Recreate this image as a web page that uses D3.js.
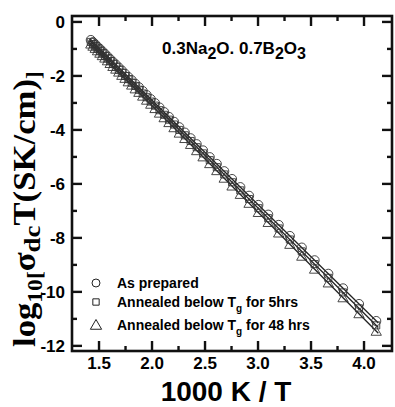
<!DOCTYPE html>
<html><head><meta charset="utf-8">
<script src="https://cdn.jsdelivr.net/npm/d3@7"></script>
<style>body{margin:0;background:#fff}svg{display:block}</style>
</head><body><svg id="c" width="395" height="407"></svg>
<script>
// 1000/T values (T = 703 K down to 243 K)
const invT = [1.4225,1.4430,1.4641,1.4859,1.5083,1.5314,1.5552,1.5798,1.6051,1.6313,1.6584,1.6863,1.7153,1.7452,1.7762,1.8083,1.8416,1.8762,1.9120,1.9493,1.9881,2.0284,2.0704,2.1142,2.1598,2.2075,2.2573,2.3095,2.3641,2.4213,2.4814,2.5445,2.6110,2.6810,2.7548,2.8329,2.9155,3.0030,3.0960,3.1949,3.3003,3.4130,3.5336,3.6630,3.8023,3.9526,4.1152];
const asPrepared = [-0.67,-0.75,-0.83,-0.92,-1.00,-1.09,-1.18,-1.28,-1.38,-1.48,-1.58,-1.69,-1.80,-1.92,-2.04,-2.16,-2.29,-2.42,-2.56,-2.71,-2.86,-3.01,-3.17,-3.34,-3.52,-3.70,-3.90,-4.10,-4.31,-4.53,-4.76,-5.01,-5.26,-5.53,-5.82,-6.12,-6.44,-6.78,-7.14,-7.52,-7.93,-8.36,-8.83,-9.33,-9.87,-10.45,-11.08];
const annealed5h = [-0.74,-0.82,-0.90,-0.99,-1.07,-1.16,-1.26,-1.35,-1.45,-1.55,-1.66,-1.77,-1.88,-2.00,-2.12,-2.25,-2.37,-2.51,-2.65,-2.79,-2.95,-3.10,-3.27,-3.44,-3.62,-3.80,-4.00,-4.20,-4.41,-4.64,-4.87,-5.12,-5.38,-5.65,-5.94,-6.24,-6.56,-6.90,-7.27,-7.65,-8.06,-8.50,-8.97,-9.48,-10.02,-10.61,-11.24];
const annealed48h = [-0.82,-0.90,-0.98,-1.07,-1.16,-1.25,-1.34,-1.44,-1.54,-1.65,-1.75,-1.86,-1.98,-2.09,-2.22,-2.34,-2.48,-2.61,-2.75,-2.90,-3.05,-3.21,-3.38,-3.55,-3.73,-3.92,-4.12,-4.32,-4.54,-4.77,-5.00,-5.25,-5.51,-5.79,-6.08,-6.39,-6.72,-7.06,-7.43,-7.82,-8.24,-8.68,-9.16,-9.67,-10.22,-10.81,-11.46];
const xTicks = [1.5,2.0,2.5,3.0,3.5,4.0];
const xMinor = [1.25,1.75,2.25,2.75,3.25,3.75,4.25];
const yTicks = [0,-2,-4,-6,-8,-10,-12];
const yMinor = [-1,-3,-5,-7,-9,-11];
const seriesNames = ["As prepared","Annealed below T|g| for 5hrs","Annealed below T|g| for 48 hrs"];
const seriesSymbols = ["circle","square","triangle"];

const svg = d3.select("#c");
const L=72,R=392,T=16,B=351;
const x = d3.scaleLinear().domain([1.245,4.264]).range([L,R]);
const y = d3.scaleLinear().domain([0.22,-12.19]).range([T,B]);

const sym = {circle:d3.symbolCircle, square:d3.symbolSquare, triangle:d3.symbolTriangle};
const sizes = {circle:66, square:50, triangle:46};
const series = [asPrepared, annealed5h, annealed48h];

// fit lines
const g = svg.append("g");
series.forEach((ys)=>{
  const n=ys.length, mx=d3.mean(invT), my=d3.mean(ys);
  let sxy=0,sxx=0; for(let i=0;i<n;i++){sxy+=(invT[i]-mx)*(ys[i]-my);sxx+=(invT[i]-mx)**2;}
  const b=sxy/sxx, a=my-b*mx;
  const x0=invT[0]-0.01, x1=invT[n-1]+0.02;
  g.append("path").attr("d",d3.line()([[x(x0),y(a+b*x0)],[x(x1),y(a+b*x1)]]))
   .attr("stroke","#222").attr("stroke-width",1.3).attr("fill","none");
});
// markers
series.forEach((ys,si)=>{
  const s=seriesSymbols[si];
  g.selectAll(null).data(ys).enter().append("path")
   .attr("d",d3.symbol(sym[s],sizes[s]))
   .attr("transform",(d,i)=>`translate(${x(invT[i])},${y(d)+(s==="triangle"?1:0)})`)
   .attr("fill","none").attr("stroke","#333").attr("stroke-width",0.9);
});

// axes
const font="Arial, 'Liberation Sans', sans-serif";
const ax = svg.append("g");
ax.append("rect").attr("x",L).attr("y",T).attr("width",R-L).attr("height",B-T)
  .attr("fill","none").attr("stroke","#111").attr("stroke-width",2.6);
const tk = (x1,y1,x2,y2)=>ax.append("line").attr("x1",x1).attr("y1",y1).attr("x2",x2).attr("y2",y2).attr("stroke","#111").attr("stroke-width",2.4);
xTicks.forEach(v=>{tk(x(v),B,x(v),B-10);tk(x(v),T,x(v),T+10);});
xMinor.forEach(v=>{ if(x(v)>L+2&&x(v)<R-2){tk(x(v),B,x(v),B-5);tk(x(v),T,x(v),T+5);} });
yTicks.forEach(v=>{tk(L,y(v),L+10,y(v));tk(R,y(v),R-10,y(v));});
yMinor.forEach(v=>{tk(L,y(v),L+5,y(v));tk(R,y(v),R-5,y(v));});
ax.selectAll(null).data(xTicks).enter().append("text")
  .attr("x",d=>x(d)).attr("y",369).attr("text-anchor","middle")
  .attr("font-family",font).attr("font-weight","bold").attr("font-size",17)
  .text(d=>d.toFixed(1));
ax.selectAll(null).data(yTicks).enter().append("text")
  .attr("x",65).attr("y",d=>y(d)+6).attr("text-anchor","end")
  .attr("font-family",font).attr("font-weight","bold").attr("font-size",17)
  .text(d=>d===0?"0":"-"+Math.abs(d));

// x label
svg.append("text").attr("x",226).attr("y",401).attr("text-anchor","middle")
  .attr("font-family",font).attr("font-weight","bold").attr("font-size",28)
  .text("1000 K / T");

// y label
const yl = svg.append("text").attr("transform","translate(35,347) rotate(-90) scale(1.12,1)")
  .attr("font-family","'Liberation Serif','Times New Roman',serif").attr("font-weight","bold").attr("font-size",31);
yl.append("tspan").text("log");
yl.append("tspan").attr("font-size",21).attr("dy",7).text("10");
yl.append("tspan").attr("font-size",21).text("[");
yl.append("tspan").attr("dy",-7).text("σ");
yl.append("tspan").attr("font-size",24).attr("dy",5).text("dc");
yl.append("tspan").attr("dy",-5).text("T(SK/cm)");
yl.append("tspan").attr("font-size",21).attr("dy",6).text("]");

// title
const tt = svg.append("text").attr("x",162).attr("y",54)
  .attr("font-family",font).attr("font-weight","bold").attr("font-size",17);
tt.append("tspan").text("0.3Na");
tt.append("tspan").attr("dy",5).attr("font-size",16).text("2");
tt.append("tspan").attr("dy",-5).text("O. 0.7B");
tt.append("tspan").attr("dy",5).attr("font-size",16).text("2");
tt.append("tspan").attr("dy",-5).text("O");
tt.append("tspan").attr("dy",5).attr("font-size",16).text("3");

// legend
const legY=[283,302,325];
seriesNames.forEach((name,i)=>{
  const s=seriesSymbols[i];
  svg.append("path").attr("d",d3.symbol(sym[s],s==="circle"?50:(s==="square"?40:55)))
    .attr("transform",`translate(96,${legY[i]+(s==="triangle"?1:0)})`)
    .attr("fill","none").attr("stroke","#222").attr("stroke-width",1);
  const t=svg.append("text").attr("x",117).attr("y",legY[i]+5)
    .attr("font-family",font).attr("font-weight","bold").attr("font-size",14);
  const parts=name.split("|");
  t.append("tspan").text(parts[0]);
  if(parts.length>1){
    t.append("tspan").attr("font-size",10).attr("dy",5).text(parts[1]);
    t.append("tspan").attr("dy",-5).text(parts[2]);
  }
});
</script></body></html>
